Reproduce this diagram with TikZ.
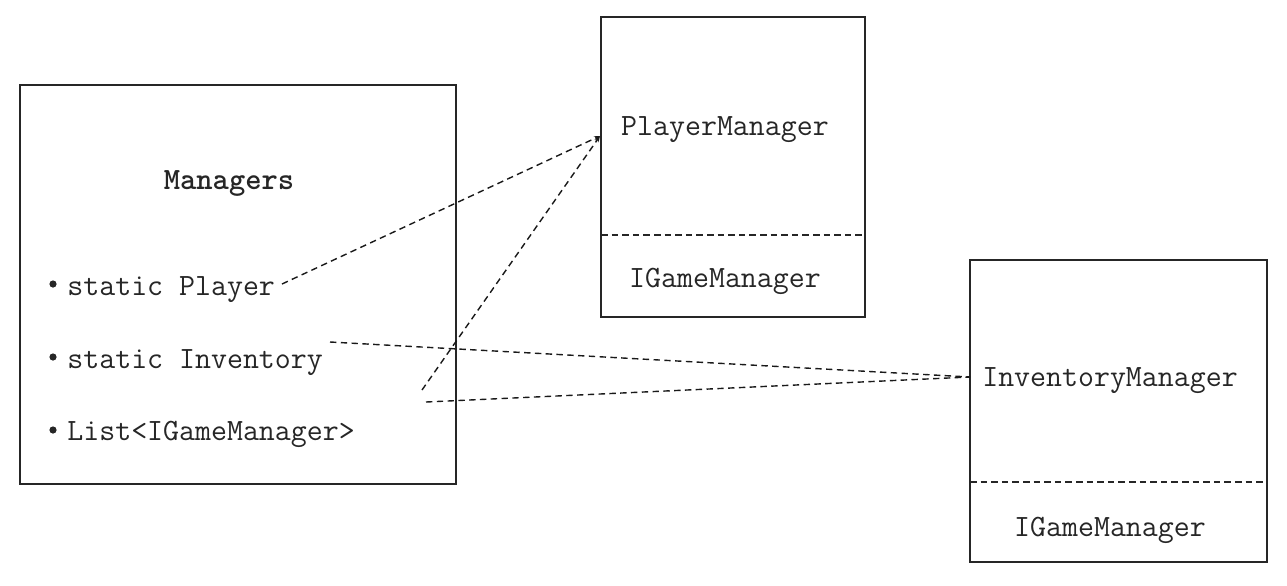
\documentclass[tikz,border=0pt]{standalone}
\usetikzlibrary{arrows.meta}
\begin{document}
\begin{tikzpicture}[x=0.5pt,y=-0.5pt,
  box/.style={draw=black!85,line width=0.75pt},
  divider/.style={draw=black!85,line width=0.7pt,dash pattern=on 3.3pt off 2pt},
  link/.style={draw=black!90,line width=0.7pt,dash pattern=on 3.2pt off 2.2pt},
  linkarrow/.style={link,-{Stealth[length=3pt,width=2.4pt]}},
  lbl/.style={font=\fontsize{15.5pt}{17pt}\selectfont\ttfamily,inner sep=0pt,text=black!85},
  bul/.style={fill=black!85}]
\useasboundingbox (0,0) rectangle (1287,585);
% boxes
\draw[box] (20,85) rectangle (456,484);
\draw[box] (601,17) rectangle (865,317);
\draw[divider] (601,235) -- (862,235);
\draw[box] (970,260) rectangle (1267,562);
\draw[divider] (970,482) -- (1267,482);
% texts
\node[lbl,font=\fontsize{15.5pt}{17pt}\selectfont\ttfamily\bfseries] (title) at (229,183) {Managers};
\node[lbl,anchor=base west] (mp) at (67,295) {static Player};
\node[lbl,anchor=base west] (mi) at (67,368) {static Inventory};
\node[lbl,anchor=base west] (ml) at (67,440) {List<IGameManager>};
\fill[bul] (53,284) circle (3.6);
\fill[bul] (53,357) circle (3.6);
\fill[bul] (53,430) circle (3.6);
\node[lbl] (pm) at (725,130) {PlayerManager};
\node[lbl] (pmi) at (725,281) {IGameManager};
\node[lbl] (im) at (1110,381) {InventoryManager};
\node[lbl] (imi) at (1110,530) {IGameManager};
% connector endpoints
\coordinate (a1) at (282,284);
\coordinate (a2) at (422,390);
\coordinate (a3) at (330,342);
\coordinate (a4) at (426,402);
\coordinate (pin) at (600,136);
\coordinate (iin) at (970,377);
\draw[linkarrow] (a1) -- (pin);
\draw[linkarrow] (a2) -- (pin);
\draw[link] (a3) -- (iin);
\draw[link] (a4) -- (iin);
\end{tikzpicture}
\end{document}
